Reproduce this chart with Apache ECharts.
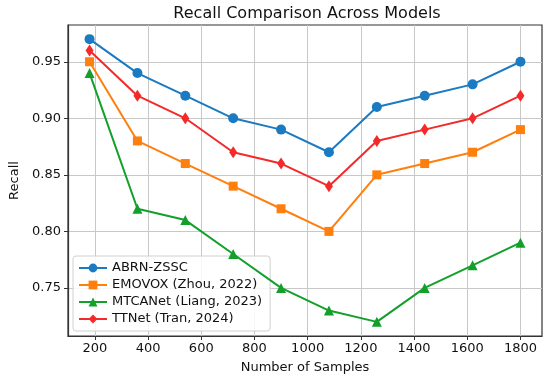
<!DOCTYPE html>
<html>
<head>
<meta charset="utf-8">
<script src="https://cdn.jsdelivr.net/npm/echarts@6/dist/echarts.min.js"></script>
<style>html,body{margin:0;padding:0;background:#fff}#c{width:550px;height:379px}</style>
</head>
<body>
<div id="c"></div>
<script>
const samples = [180, 360, 540, 720, 900, 1080, 1260, 1440, 1620, 1800];
const abrn = [0.97, 0.94, 0.92, 0.90, 0.89, 0.87, 0.91, 0.92, 0.93, 0.95];
const emovox = [0.95, 0.88, 0.86, 0.84, 0.82, 0.80, 0.85, 0.86, 0.87, 0.89];
const mtcanet = [0.94, 0.82, 0.81, 0.78, 0.75, 0.73, 0.72, 0.75, 0.77, 0.79];
const ttnet = [0.96, 0.92, 0.90, 0.87, 0.86, 0.84, 0.88, 0.89, 0.90, 0.92];
const xTicks = [200, 400, 600, 800, 1000, 1200, 1400, 1600, 1800];
const yTicks = [0.75, 0.80, 0.85, 0.90, 0.95];
const seriesNames = ['ABRN-ZSSC', 'EMOVOX (Zhou, 2022)', 'MTCANet (Liang, 2023)', 'TTNet (Tran, 2024)'];

const FONT = 'DejaVu Sans';
const colors = ['#1a7ac2', '#ff7f0e', '#12a02a', '#f42a2a'];
const symbols = ['circle', 'rect', 'triangle', 'diamond'];
const sizes = [10, 9, 10, [8, 12]];
const all = [abrn, emovox, mtcanet, ttnet];

const chart = echarts.init(document.getElementById('c'), null, {renderer: 'canvas'});
chart.setOption({
  animation: false,
  backgroundColor: '#fff',
  title: {
    text: 'Recall Comparison Across Models',
    left: 302, top: 1, textAlign: 'center',
    textStyle: {fontFamily: FONT, fontSize: 16, fontWeight: 'normal', color: '#111'}
  },
  grid: {left: 65, top: 25, right: 8, bottom: 42, show: true, borderColor: '#333', borderWidth: 1.2, backgroundColor: 'transparent'},
  legend: {
    orient: 'vertical', left: 73, top: 256,
    data: seriesNames,
    itemWidth: 28, itemHeight: 11, itemGap: 3,
    padding: [5, 8, 5, 5],
    backgroundColor: 'rgba(255,255,255,0.85)',
    borderColor: '#d0d0d0', borderWidth: 1, borderRadius: 3,
    textStyle: {fontFamily: FONT, fontSize: 13, color: '#111', lineHeight: 14}
  },
  xAxis: {
    type: 'value', min: 99, max: 1881,
    name: 'Number of Samples', nameLocation: 'middle', nameGap: 25,
    nameTextStyle: {fontFamily: FONT, fontSize: 13, color: '#111'},
    axisLine: {show: true, onZero: false, lineStyle: {color: '#333', width: 1.2}},
    axisTick: {show: true, length: 4, customValues: xTicks, lineStyle: {color: '#333'}},
    axisLabel: {customValues: xTicks, fontFamily: FONT, fontSize: 13, color: '#111', margin: 6,
      formatter: v => String(v)},
    splitLine: {show: true, lineStyle: {color: '#c8c8c8', width: 1}}
  },
  yAxis: {
    type: 'value', min: 0.7075, max: 0.9825,
    name: 'Recall', nameLocation: 'middle', nameGap: 47,
    nameTextStyle: {fontFamily: FONT, fontSize: 13, color: '#111'},
    axisLine: {show: true, onZero: false, lineStyle: {color: '#333', width: 1.2}},
    axisTick: {show: true, length: 4, customValues: yTicks, lineStyle: {color: '#333'}},
    axisLabel: {customValues: yTicks, fontFamily: FONT, fontSize: 13, color: '#111', margin: 7,
      formatter: v => v.toFixed(2)},
    splitLine: {show: true, lineStyle: {color: '#c8c8c8', width: 1}}
  },
  series: seriesNames.map((n, i) => ({
    name: n, type: 'line',
    data: samples.map((x, j) => [x, all[i][j]]),
    symbol: symbols[i], symbolSize: sizes[i],
    itemStyle: {color: colors[i]},
    lineStyle: {color: colors[i], width: 2},
    z: 2 + i
  }))
});
</script>
</body>
</html>
